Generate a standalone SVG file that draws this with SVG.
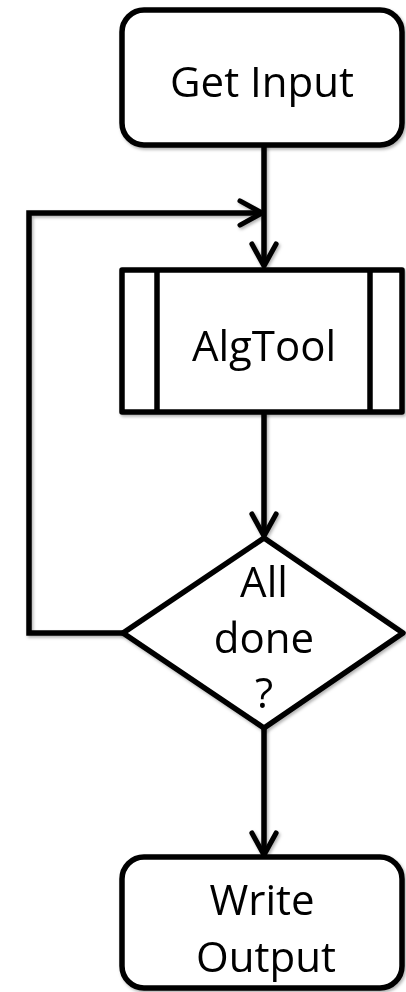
<svg xmlns="http://www.w3.org/2000/svg" width="406" height="992" viewBox="0 0 406 992">
  <defs>
    <filter id="soft" x="-10%" y="-10%" width="130%" height="130%">
      <feDropShadow dx="1.5" dy="2" stdDeviation="1.5" flood-color="#000" flood-opacity="0.3"/>
    </filter>
    <marker id="chev" viewBox="0 0 14 14" refX="12" refY="7" markerWidth="5.6" markerHeight="5.6" markerUnits="strokeWidth" orient="auto">
      <path d="M2,1.5 L12,7 L2,12.5" fill="none" stroke="#000" stroke-width="2.3" stroke-linecap="round" stroke-linejoin="round"/>
    </marker>
    <style>
      .shape { fill: #fff; stroke: #000; stroke-width: 5.5; stroke-linejoin: round; }
      .line { fill: none; stroke: #000; stroke-width: 5.5; }
      .lbl { font-family: "Open Sans", "Noto Sans", sans-serif; font-size: 42px; fill: #000; text-anchor: middle; }
    </style>
  </defs>
  <rect width="406" height="992" fill="#fff"/>

  <!-- connectors -->
  <g id="connectors" filter="url(#soft)">
    <line class="line" x1="264" y1="145" x2="264" y2="266" marker-end="url(#chev)"/>
    <polyline class="line" points="123,633 29,633 29,213 262,213" marker-end="url(#chev)"/>
    <line class="line" x1="264" y1="412" x2="264" y2="536" marker-end="url(#chev)"/>
    <line class="line" x1="264" y1="728" x2="264" y2="855" marker-end="url(#chev)"/>
  </g>

  <!-- start terminal -->
  <g id="get-input" filter="url(#soft)">
    <rect class="shape" x="122" y="10" width="280" height="135" rx="22"/>
    <text class="lbl" x="262" y="97">Get Input</text>
  </g>

  <!-- predefined process -->
  <g id="algtool" filter="url(#soft)">
    <rect class="shape" x="122" y="270" width="280" height="142" stroke-linejoin="miter"/>
    <line class="line" x1="157" y1="270" x2="157" y2="412"/>
    <line class="line" x1="370" y1="270" x2="370" y2="412"/>
    <text class="lbl" x="264" y="361">AlgTool</text>
  </g>

  <!-- decision -->
  <g id="all-done" filter="url(#soft)">
    <polygon class="shape" points="264,538 403,633 264,728 123,633"/>
    <text class="lbl" x="264" y="597">All</text>
    <text class="lbl" x="264" y="653">done</text>
    <text class="lbl" x="264" y="708">?</text>
  </g>

  <!-- end terminal -->
  <g id="write-output" filter="url(#soft)">
    <rect class="shape" x="122" y="857" width="280" height="131" rx="22"/>
    <text class="lbl" x="262" y="915">Write</text>
    <text class="lbl" x="266" y="972">Output</text>
  </g>
</svg>
